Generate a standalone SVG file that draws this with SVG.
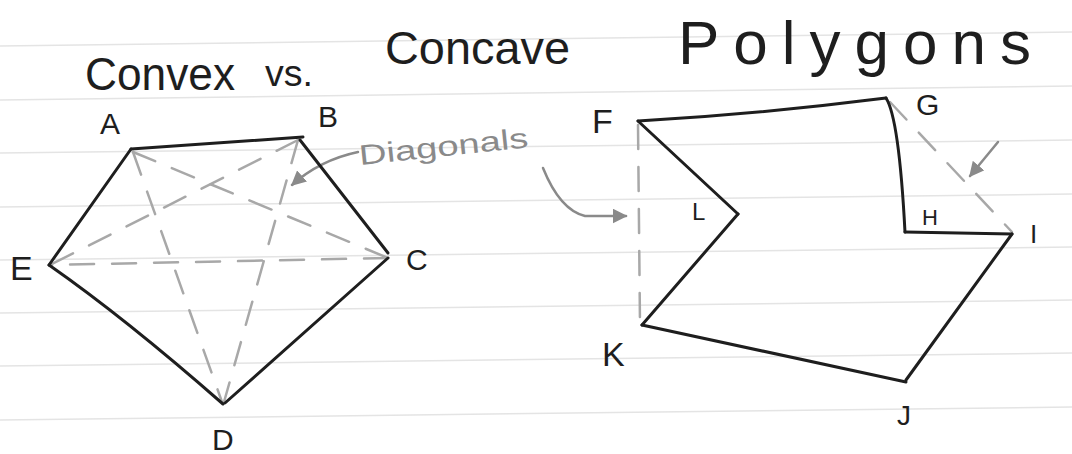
<svg xmlns="http://www.w3.org/2000/svg" width="1072" height="454" viewBox="0 0 1072 454">
<style>
.rule{stroke:#e4e4e4;stroke-width:1.5;fill:none}
.edge{stroke:#1e1e1e;stroke-width:3;fill:none;stroke-linecap:round;stroke-linejoin:round}
.diag{stroke:#a8a8a8;stroke-width:2.5;fill:none;stroke-dasharray:24 18;stroke-linecap:round}
.lbl{font-family:"Liberation Sans",Arial,sans-serif;fill:#1e1e1e}
.glbl{font-family:"Liberation Sans",Arial,sans-serif;fill:#8a8a8a}
.garrow{stroke:#8a8a8a;stroke-width:2.5;fill:none;stroke-linecap:round}
</style>
<defs>
<marker id="ah" viewBox="0 0 10 10" refX="9" refY="5" markerWidth="6" markerHeight="6" orient="auto">
<path d="M0,0 L10,5 L0,10 z" fill="#8a8a8a"/>
</marker>
</defs>
<rect width="1072" height="454" fill="#ffffff"/>
<g id="ruled-lines">
<path class="rule" d="M0,46 L1072,32"/>
<path class="rule" d="M0,100 L1072,86"/>
<path class="rule" d="M0,153 L1072,140"/>
<path class="rule" d="M0,207 L1072,194"/>
<path class="rule" d="M0,260 L1072,247"/>
<path class="rule" d="M0,313 L1072,300"/>
<path class="rule" d="M0,366 L1072,353"/>
<path class="rule" d="M0,420 L1072,407"/>
</g>
<g id="title">
<text class="lbl" x="85" y="90" font-size="46" textLength="150" lengthAdjust="spacingAndGlyphs">Convex</text>
<text class="lbl" x="265" y="86" font-size="36" textLength="48" lengthAdjust="spacingAndGlyphs">vs.</text>
<text class="lbl" x="385" y="64" font-size="46" textLength="185" lengthAdjust="spacingAndGlyphs">Concave</text>
<text class="lbl" x="678" y="64" font-size="62" letter-spacing="14">Polygons</text>
</g>
<g id="connectors">
<path class="diag" d="M133,152 L388,258"/>
<path class="diag" d="M133,152 L222,402"/>
<path class="diag" d="M298,140 L50,265"/>
<path class="diag" d="M298,140 L224,402"/>
<path class="diag" d="M388,258 L50,265"/>
<path class="diag" d="M638,125 L640,325"/>
<path class="diag" d="M890,102 L1012,232"/>
<path class="garrow" d="M358,152 Q320,160 292,185" marker-end="url(#ah)"/>
<path class="garrow" d="M543,168 Q560,210 585,216 L626,216" marker-end="url(#ah)"/>
<path class="garrow" d="M998,142 L970,176" marker-end="url(#ah)"/>
</g>
<g id="convex-polygon">
<path class="edge" d="M131,149 L303,137"/>
<path class="edge" d="M300,140 L388,253"/>
<path class="edge" d="M388,258 L225,403"/>
<path class="edge" d="M223,404 Q125,318 49,265"/>
<path class="edge" d="M49,265 L131,149"/>
</g>
<g id="concave-polygon">
<path class="edge" d="M638,121 Q760,114 886,98"/>
<path class="edge" d="M886,98 Q899,118 905,232"/>
<path class="edge" d="M905,232 L1012,234"/>
<path class="edge" d="M1012,234 L906,380"/>
<path class="edge" d="M906,382 L642,325"/>
<path class="edge" d="M642,325 L738,214"/>
<path class="edge" d="M738,214 L638,121"/>
</g>
<g id="label-A"><text class="lbl" x="100" y="134" font-size="30">A</text></g>
<g id="label-B"><text class="lbl" x="318" y="127" font-size="30">B</text></g>
<g id="label-C"><text class="lbl" x="406" y="270" font-size="30">C</text></g>
<g id="label-D"><text class="lbl" x="212" y="450" font-size="30">D</text></g>
<g id="label-E"><text class="lbl" x="10" y="280" font-size="34">E</text></g>
<g id="label-F"><text class="lbl" x="592" y="133" font-size="34">F</text></g>
<g id="label-G"><text class="lbl" x="916" y="115" font-size="30">G</text></g>
<g id="label-H"><text class="lbl" x="922" y="225" font-size="22">H</text></g>
<g id="label-I"><text class="lbl" x="1030" y="243" font-size="26">I</text></g>
<g id="label-J"><text class="lbl" x="897" y="425" font-size="28">J</text></g>
<g id="label-K"><text class="lbl" x="602" y="366" font-size="34">K</text></g>
<g id="label-L"><text class="lbl" x="692" y="220" font-size="24">L</text></g>
<g id="label-diagonals"><text class="glbl" x="360" y="165" font-size="28" textLength="170" lengthAdjust="spacingAndGlyphs" transform="rotate(-6 360 165)">Diagonals</text></g>
</svg>
